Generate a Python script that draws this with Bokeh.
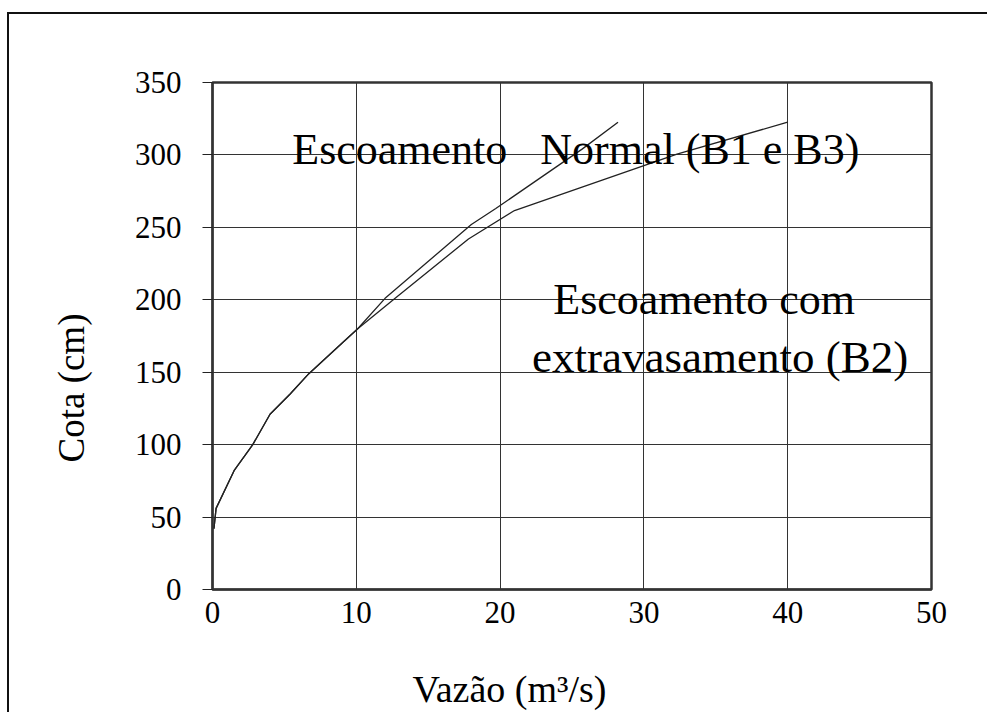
from bokeh.plotting import figure
from bokeh.models import Label, FixedTicker, Title
from bokeh.embed import file_html
from bokeh.resources import INLINE

# ---- data ----
normal_q = [0.1, 0.25, 1.5, 2.8, 4.0, 5.4, 6.7, 9.0, 10.1, 12.0, 18.0, 19.7, 25.7, 28.2]
normal_cota = [42, 56, 82, 100, 121, 135, 149, 170, 180, 201, 252, 263, 304, 322.5]

b2_q = [0.1, 0.25, 1.5, 2.8, 4.0, 5.4, 6.7, 9.0, 10.1, 12.7, 17.8, 21.0, 32.3, 40.0]
b2_cota = [42, 56, 82, 100, 121, 135, 149, 170, 180, 201, 242, 261.6, 300.5, 322.6]

x_ticks = [0, 10, 20, 30, 40, 50]
y_ticks = [0, 50, 100, 150, 200, 250, 300, 350]

FONT = "Liberation Serif"

p = figure(width=980, height=700, output_backend="svg", toolbar_location=None,
           x_range=(0, 50), y_range=(0, 350),
           min_border_left=201, min_border_right=58, min_border_top=68, min_border_bottom=125)
p.styles = {"border-top": "2px solid #111", "border-left": "2px solid #111",
            "margin-top": "12px", "margin-left": "7px"}

p.background_fill_color = "white"
p.border_fill_color = "white"
p.outline_line_color = "#333333"
p.outline_line_width = 2.5

p.xaxis.ticker = FixedTicker(ticks=x_ticks)
p.yaxis.ticker = FixedTicker(ticks=y_ticks)
for ax in (p.xaxis[0], p.yaxis[0]):
    ax.axis_line_color = "#333333"
    ax.axis_line_width = 2
    ax.minor_tick_line_color = None
    ax.major_tick_line_color = "#222222"
    ax.major_tick_in = 0
    ax.major_label_text_font = FONT
    ax.major_label_text_font_size = "31px"
    ax.major_label_text_color = "black"
p.xaxis.major_tick_out = 0
p.xaxis.major_label_standoff = 12
p.yaxis.major_tick_out = 10
p.yaxis.major_label_standoff = 21

# invisible spacer label so the x title sits lower without growing the border
p.xaxis.axis_label = "\u00a0"
p.xaxis.axis_label_text_font_size = "10px"
p.xaxis.axis_label_standoff = 22

p.xgrid.grid_line_color = "#333333"
p.ygrid.grid_line_color = "#333333"
p.xgrid.grid_line_width = 1
p.ygrid.grid_line_width = 1

p.line(normal_q, normal_cota, line_color="#222222", line_width=1.3)
p.line(b2_q, b2_cota, line_color="#222222", line_width=1.3)

def lab(x, y, text, size, align="left"):
    p.add_layout(Label(x=x, y=y, text=text, text_font=FONT, text_font_size=size,
                       text_color="black", text_align=align, text_baseline="alphabetic"))

lab(5.55, 303.7, "Escoamento\u00a0\u00a0 Normal (B1 e B3)", "44px")
lab(23.7, 200.2, "Escoamento com", "44px")
lab(35.3, 160.8, "extravasamento (B2)", "45px", align="center")

xt = Title(text="Vazão (m³/s)", align="left", offset=200, standoff=8,
           text_font=FONT, text_font_size="38px", text_font_style="normal", text_color="black")
p.add_layout(xt, "below")
yt = Title(text="Cota (cm)", align="left", offset=127, standoff=79,
           text_font=FONT, text_font_size="37px", text_font_style="normal", text_color="black")
p.add_layout(yt, "left")

open("out.html", "w").write(file_html(p, INLINE))
